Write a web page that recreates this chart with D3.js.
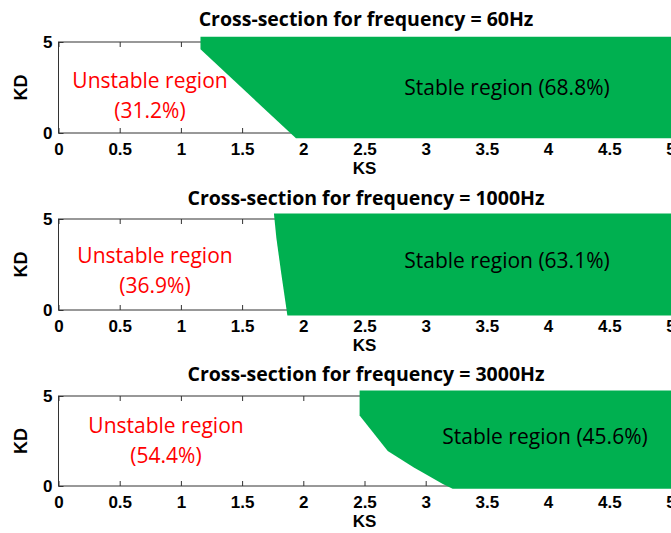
<!DOCTYPE html>
<html><head><meta charset="utf-8">
<script src="https://cdn.jsdelivr.net/npm/d3@7"></script>
<style>body{margin:0;background:#fff}svg{display:block}</style>
</head><body>
<svg id="c" width="671" height="533"></svg>
<script>
// ---- data ----
const frequencies = ["60Hz", "1000Hz", "3000Hz"];
const unstablePct = ["31.2%", "36.9%", "54.4%"];
const stablePct = ["68.8%", "63.1%", "45.6%"];
const xTicks = [0, 0.5, 1, 1.5, 2, 2.5, 3, 3.5, 4, 4.5, 5];
const yTicks = [0, 5];
// stability boundary (left edge of stable region), top to bottom
const boundaryKS60 = [1.16, 1.16, 1.94];
const boundaryKD60 = [5.29, 4.6, -0.29];
const boundaryKS1000 = [1.76, 1.78, 1.82, 1.87];
const boundaryKD1000 = [5.3, 3.96, 2.0, -0.3];
const boundaryKS3000 = [2.46, 2.46, 2.69, 2.90, 3.14, 3.22];
const boundaryKD3000 = [5.3, 3.92, 1.95, 1.04, 0.11, -0.15];
const ksMax = 5.05;

const boundariesKS = [boundaryKS60, boundaryKS1000, boundaryKS3000];
const boundariesKD = [boundaryKD60, boundaryKD1000, boundaryKD3000];

// ---- layout ----
const panels = [
  {top: 42, bottom: 133, titleY: 26, unsX: 150, unsY: 81, st: [507, 88]},
  {top: 219, bottom: 310, titleY: 205, unsX: 155, unsY: 256, st: [507, 261]},
  {top: 396, bottom: 486, titleY: 381, unsX: 166, unsY: 426, st: [545, 437]}
];
const svg = d3.select("#c");
const x = d3.scaleLinear().domain([0, 5]).range([58.5, 670.5]);
const axisFont = "Liberation Sans, Arial, sans-serif";

panels.forEach((p, i) => {
  const y = d3.scaleLinear().domain([0, 5]).range([p.bottom, p.top]);
  const g = svg.append("g");
  // plot box
  g.append("rect").attr("x", x(0)).attr("y", y(5)).attr("width", x(5) - x(0)).attr("height", y(0) - y(5))
    .attr("fill", "none").attr("stroke", "#333").attr("stroke-width", 1);
  // inward ticks bottom & top
  const ab = g.append("g").attr("transform", `translate(0,${y(0)})`)
    .call(d3.axisBottom(x).tickValues(xTicks).tickSizeInner(-5).tickSizeOuter(0).tickPadding(10)
      .tickFormat(d3.format("")));
  ab.select(".domain").remove();
  ab.selectAll("line").attr("stroke", "#333");
  ab.selectAll("text").attr("font-family", axisFont).attr("font-weight", "bold")
    .attr("font-size", 17).attr("fill", "#000");
  const at = g.append("g").attr("transform", `translate(0,${y(5)})`)
    .call(d3.axisTop(x).tickValues(xTicks).tickSizeInner(-5).tickSizeOuter(0).tickFormat(""));
  at.select(".domain").remove();
  at.selectAll("line").attr("stroke", "#333");
  const al = g.append("g").attr("transform", `translate(${x(0)},0)`)
    .call(d3.axisLeft(y).tickValues(yTicks).tickSizeInner(-5).tickSizeOuter(0).tickPadding(6)
      .tickFormat(d3.format("d")));
  al.select(".domain").remove();
  al.selectAll("line").attr("stroke", "#333");
  al.selectAll("text").attr("font-family", axisFont).attr("font-weight", "bold")
    .attr("font-size", 17).attr("fill", "#000");

  // stable region polygon
  const ks = boundariesKS[i], kd = boundariesKD[i];
  const pts = ks.map((v, j) => [v, kd[j]]);
  pts.push([ksMax, kd[kd.length - 1]]);
  pts.push([ksMax, kd[0]]);
  g.append("path").attr("d", d3.line().x(d => x(d[0])).y(d => y(d[1]))(pts) + "Z")
    .attr("fill", "#00B050");

  // title
  g.append("text").attr("x", 366).attr("y", p.titleY).attr("text-anchor", "middle")
    .attr("font-family", "Open Sans, sans-serif").attr("font-weight", "bold").attr("font-size", 19.5)
    .text("Cross-section for frequency = " + frequencies[i]);
  // axis labels
  g.append("text").attr("x", x(2.5)).attr("y", p.bottom + 41).attr("text-anchor", "middle")
    .attr("font-family", axisFont).attr("font-weight", "bold").attr("font-size", 17)
    .text("KS");
  g.append("text").attr("transform", `translate(27,${(p.top + p.bottom) / 2}) rotate(-90)`).attr("text-anchor", "middle")
    .attr("font-family", axisFont).attr("font-weight", "bold").attr("font-size", 18)
    .text("KD");
  // region labels
  const lab = g.append("g").attr("font-family", "Open Sans, sans-serif").attr("font-size", 21);
  lab.append("text").attr("x", p.unsX).attr("y", p.unsY + 7).attr("text-anchor", "middle").attr("fill", "#ff0000")
    .text("Unstable region");
  lab.append("text").attr("x", p.unsX).attr("y", p.unsY + 37).attr("text-anchor", "middle").attr("fill", "#ff0000")
    .text("(" + unstablePct[i] + ")");
  lab.append("text").attr("x", p.st[0]).attr("y", p.st[1] + 7).attr("text-anchor", "middle").attr("fill", "#000")
    .text("Stable region (" + stablePct[i] + ")");
});
</script>
</body></html>
